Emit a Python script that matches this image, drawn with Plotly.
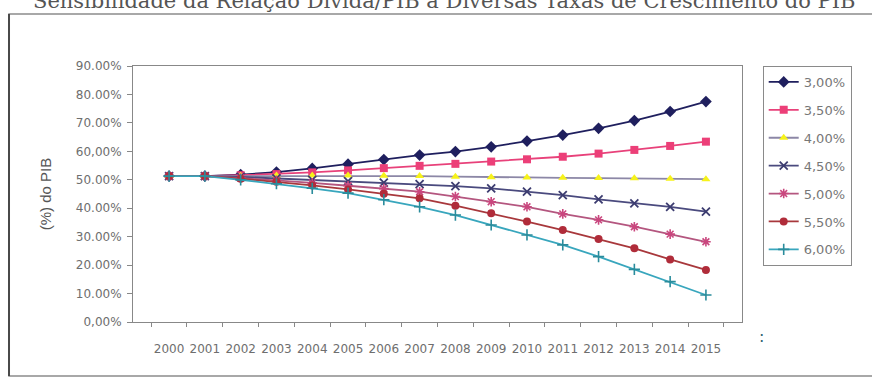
import plotly.graph_objects as go

# Debt / GDP ratio under different GDP growth rates
years = [str(y) for y in range(2000, 2016)]

g_300 = [51.3, 51.3, 51.8, 52.7, 54.0, 55.5, 57.1, 58.7, 59.9, 61.6, 63.6, 65.7, 68.1, 70.8, 74.0, 77.5]
g_350 = [51.3, 51.3, 51.6, 52.0, 52.6, 53.3, 54.1, 54.9, 55.6, 56.4, 57.2, 58.1, 59.2, 60.5, 61.9, 63.4]
g_400 = [51.3, 51.3, 51.4, 51.5, 51.5, 51.5, 51.4, 51.3, 51.1, 50.9, 50.8, 50.7, 50.6, 50.5, 50.4, 50.2]
g_450 = [51.3, 51.3, 51.0, 50.5, 50.0, 49.5, 49.0, 48.5, 47.8, 47.0, 45.8, 44.6, 43.1, 41.7, 40.5, 38.8]
g_500 = [51.3, 51.3, 50.6, 49.8, 48.9, 47.9, 46.9, 45.8, 44.1, 42.3, 40.5, 38.0, 35.9, 33.5, 30.9, 28.2]
g_550 = [51.3, 51.3, 50.4, 49.3, 48.0, 46.6, 45.1, 43.5, 40.9, 38.2, 35.3, 32.3, 29.2, 25.9, 22.0, 18.3]
g_600 = [51.3, 51.3, 50.0, 48.6, 47.0, 45.3, 43.0, 40.5, 37.6, 34.1, 30.6, 27.1, 23.0, 18.5, 14.2, 9.5]

series_names = ["3,00%", "3,50%", "4,00%", "4,50%", "5,00%", "5,50%", "6,00%"]
series_values = [g_300, g_350, g_400, g_450, g_500, g_550, g_600]

y_tickvals = [0, 10, 20, 30, 40, 50, 60, 70, 80, 90]
y_ticktext = ["0,00%", "10.00%", "20.00%", "30.00%", "40.00%",
              "50.00%", "60,00%", "70.00%", "80.00%", "90.00%"]

styles = [
    dict(line="#1f1f5e", marker=dict(symbol="diamond", size=9, color="#1f1f5e")),
    dict(line="#e8417a", marker=dict(symbol="square", size=8, color="#ec3f78")),
    dict(line="#8c87a6", marker=dict(symbol="triangle-up", size=8, color="#f6f21a")),
    dict(line="#4a4a7e", marker=dict(symbol="x-thin-open", size=8, color="#3c3c70",
                                     line=dict(width=1.8, color="#3c3c70"))),
    dict(line="#b4567f", marker=dict(symbol="asterisk-open", size=8, color="#c9477e",
                                     line=dict(width=1.6, color="#c9477e"))),
    dict(line="#a8383c", marker=dict(symbol="circle", size=8, color="#b02c3a")),
    dict(line="#38a6bd", marker=dict(symbol="cross-thin-open", size=8, color="#2a8c9c",
                                     line=dict(width=1.6, color="#2a8c9c"))),
]

fig = go.Figure()
for name, vals, st in zip(series_names, series_values, styles):
    fig.add_trace(go.Scatter(
        x=years, y=vals, name=name, mode="lines+markers",
        legendgroup=name,
        line=dict(color=st["line"], width=1.8),
        marker=st["marker"],
    ))

tick_font = dict(family="DejaVu Sans", size=12, color="#6e6e6e")

fig.update_layout(
    width=872, height=379,
    margin=dict(l=133, r=130, t=66, b=57),
    paper_bgcolor="white", plot_bgcolor="white",
    showlegend=True,
    legend=dict(
        x=1.034, xanchor="left", y=1.0, yanchor="top",
        bordercolor="#8a8a8a", borderwidth=1,
        font=dict(family="DejaVu Sans", size=13, color="#777777"),
        tracegroupgap=8, itemwidth=30,
    ),
    xaxis=dict(
        type="category", tickson="boundaries", ticks="outside", ticklen=4,
        tickcolor="#888888", showline=True, linecolor="#888888", linewidth=1,
        mirror=True, showgrid=False, tickfont=tick_font, tickangle=0,
        ticklabelstandoff=16,
    ),
    yaxis=dict(
        range=[0, 90], tickvals=y_tickvals, ticktext=y_ticktext,
        ticks="outside", ticklen=5, tickcolor="#888888",
        showline=True, linecolor="#888888", linewidth=1, mirror=True,
        showgrid=False, zeroline=False, tickfont=tick_font,
        ticklabelstandoff=3,
        title=dict(text="(%) do PIB", standoff=20,
                   font=dict(family="Liberation Sans", size=15, color="#555555")),
    ),
)

# outer frame around the chart
fig.add_shape(type="rect", xref="paper", yref="paper",
              x0=-0.2036, x1=1.6, y0=-0.211, y1=1.203,
              line=dict(color="#8c8c8c", width=1.5), layer="below")
fig.add_shape(type="line", xref="paper", yref="paper",
              x0=-0.2036, x1=-0.2036, y0=-0.211, y1=1.203,
              line=dict(color="#4a4a4a", width=2))

# title line at the top edge
fig.add_annotation(
    text="Sensibilidade da Relação Dívida/PIB à Diversas Taxas de Crescimento do PIB",
    xref="paper", yref="paper", x=0.51, y=1.252, xanchor="center", yanchor="middle",
    showarrow=False, font=dict(family="DejaVu Serif", size=21, color="#555555"),
)

# small marks to the right of the x-axis labels
fig.add_annotation(text=":", xref="paper", yref="paper", x=1.04, y=-0.1,
                   showarrow=False, font=dict(family="DejaVu Sans", size=16, color="#2f6470"))

fig.write_html("out.html")
